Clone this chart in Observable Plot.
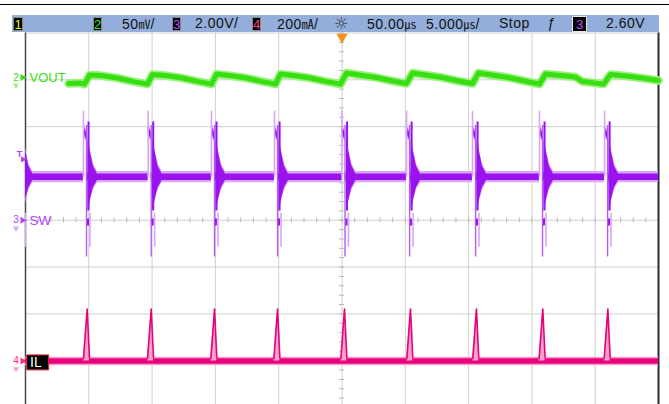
<!DOCTYPE html>
<html><head><meta charset="utf-8">
<script src="https://cdn.jsdelivr.net/npm/d3@7"></script>
<script src="https://cdn.jsdelivr.net/npm/@observablehq/plot@0.6"></script>
<style>
body{margin:0;background:#fff;}
#wrap{position:relative;width:669px;height:404px;overflow:hidden;background:#fff;font-family:"Liberation Sans",Arial,sans-serif;}
#topline{position:absolute;left:0;top:3.5px;width:669px;height:1.5px;background:#000;}
#bar{position:absolute;left:12px;top:15px;width:647px;height:17px;background:#93aedb;}
.h{position:absolute;top:15px;height:17px;line-height:17px;font-size:14px;color:#111;white-space:nowrap;letter-spacing:0.5px;}
.u{font-family:"Noto Sans CJK SC",sans-serif;font-size:12px;letter-spacing:0;}
.box{position:absolute;top:16.5px;height:14px;line-height:13px;background:#000;font-size:13px;text-align:center;border:1px solid #8a8a8a;box-sizing:border-box;}
#plot{position:absolute;left:0;top:32px;}
</style></head>
<body>
<div id="wrap">
  <div id="topline"></div>
  <div id="bar"></div>
  <div class="box" style="left:13px;width:10px;color:#f4f400;">1</div>
  <div class="box" style="left:93px;width:9px;color:#3cf03c;">2</div>
  <div class="h" style="left:122px;">50<span class="u">㎷</span>/</div>
  <div class="box" style="left:172px;width:9px;color:#c84cff;">3</div>
  <div class="h" style="left:195px;">2.00V/</div>
  <div class="box" style="left:252px;width:9px;color:#ff3c8c;">4</div>
  <div class="h" style="left:277px;">200<span class="u">㎃</span>/</div>
  <div class="h" style="left:334px;font-family:'DejaVu Sans';font-size:16px;letter-spacing:0;color:#333;">☼</div>
  <div class="h" style="left:367px;">50.00<span class="u">㎲</span></div>
  <div class="h" style="left:426px;">5.000<span class="u">㎲</span>/</div>
  <div class="h" style="left:499px;">Stop</div>
  <div class="h" style="left:547px;font-style:italic;">ƒ</div>
  <div class="box" style="left:572px;width:15px;height:16px;top:15.5px;line-height:15px;border:1px solid #e8e8e8;color:#c84cff;">3</div>
  <div class="h" style="left:606px;">2.60V</div>
  <div id="plot"></div>
</div>
<script>
// ---- data ----
// VOUT (channel 2, mV relative to its marker)
const voutTime = [28.40,29.34,29.66,30.06,30.92,32.27,33.53,34.64,35.03,36.06,37.40,38.67,39.69,40.09,41.11,42.46,43.72,44.75,45.14,46.17,47.51,48.78,49.88,50.36,51.38,52.73,53.99,55.09,55.57,56.60,57.94,59.20,60.31,60.78,61.81,63.15,64.42,65.60,66.07,67.26,68.44,69.00,70.66,71.21,72.79,73.97,75.00];
const voutMv   = [-6.4,-5.9,-7.0,2.7,2.1,-0.5,-4.3,-7.0,3.2,2.1,-0.5,-4.3,-7.0,3.7,2.1,-0.5,-4.3,-7.0,3.7,2.1,-0.5,-4.3,-7.0,4.8,2.7,0.0,-3.7,-6.4,4.8,2.7,0.0,-3.7,-6.4,4.8,2.7,0.0,-3.7,-7.0,3.7,2.1,0.5,-4.3,-7.0,3.2,1.1,-1.1,-3.2];

// SW (channel 3, volts): rising-edge times (µs) and the shape of one switching event
const swEdges   = [24.48,29.58,34.69,39.69,44.67,50.00,55.10,60.31,65.60,70.74];
const swRingDt  = [-0.001,0,0.24,0.241,0.36,0.37,0.55,0.79,1.10];
const swRingHi  = [1.98,4.0,3.75,1.98,1.98,3.4,2.9,2.3,1.98];
const swRingLo  = [1.70,3.7,3.45,1.70,1.70,0.4,0.9,1.4,1.70];
const swSpikeDt   = [0,0.24,0.355,0.40,0.51];
const swSpikeFrom = [1.84,4.05,0.05,4.2,0.3];
const swSpikeTo   = [4.66,-1.57,-0.25,0.4,-1.15];
const swSpikeTone = ["light","mid","dark","dark","light"];
const swBaseHi = 1.98, swBaseLo = 1.70;

// IL (channel 4, mA): peak times and peak shape
const ilPeaks = [29.87,34.93,39.93,44.91,50.20,55.41,60.62,65.86,71.00];
const ilDt = [-0.29,0,0.18];
const ilMa = [10,222,15];

// ---- scope settings ----
const mVperDiv = 50, VperDiv = 2, mAperDiv = 200;
const pos2 = 3.048, pos3 = 0, pos4 = -3.005; // channel marker positions (div)
const trigV = 2.60, trigT = 50;

// ---- derived tables ----
const vout = voutTime.map((t,i)=>({t, y: pos2 + voutMv[i]/mVperDiv}));
const swBand = swEdges.flatMap(e => swRingDt.map((d,j)=>({t:e+d, hi:swRingHi[j], lo:swRingLo[j]})));
swBand.push({t:75.5, hi:swBaseHi, lo:swBaseLo});
swBand.sort((a,b)=>a.t-b.t);
const swSpikes = swEdges.flatMap(e => swSpikeDt.map((d,j)=>({t:e+d, a:swSpikeFrom[j], b:swSpikeTo[j], tone:swSpikeTone[j]})));
const ilTri = ilPeaks.flatMap((p,k) => ilDt.map((d,j)=>({k, t:p+d, y: pos4 + ilMa[j]/mAperDiv})));

const xTicks = d3.ticks(25,75,10);
const yTicks = d3.ticks(-3.936,4,8);
const minorX = d3.range(25,75.001,1);
const minorY = d3.range(-3.8,4.001,0.2);

const G = "#37df12", Glight = "#9cf07e";
const P = "#9a12ee", Plight = "#d8a6f6", Pmid = "#b45cf2", Plabel = "#b444f2";
const M = "#e8007c", Mlight = "#f6a2ca", Mlabel = "#ff2a8a";
const boxSym = {draw(ctx){ ctx.rect(-11,-7.5,22,15); }};

const sv = (v)=> pos3 + v/VperDiv;

const chart = Plot.plot({
  width: 669, height: 372,
  marginLeft: 25, marginRight: 11, marginTop: 0.5, marginBottom: 0,
  x: {domain: [25,75], axis: null},
  y: {domain: [-3.936,4], axis: null},
  style: {background: "transparent", overflow: "visible", fontFamily: "'Liberation Sans', Arial, sans-serif"},
  marks: [
    Plot.ruleX(xTicks, {stroke: "#cfcfcf", strokeWidth: 1}),
    Plot.ruleY(yTicks, {stroke: "#cfcfcf", strokeWidth: 1}),
    Plot.ruleX(minorX, {x: d=>d, y1: -0.055, y2: 0.055, stroke: "#b8b8b8"}),
    Plot.ruleY(minorY, {y: d=>d, x1: trigT-0.2, x2: trigT+0.2, stroke: "#b8b8b8"}),
    Plot.ruleX([25], {stroke: "#4a4a4a", strokeWidth: 1.5}),
    Plot.ruleX([75], {stroke: "#2c2c34", strokeWidth: 2}),

    // IL
    Plot.ruleY([pos4], {stroke: Mlight, strokeWidth: 8.5}),
    Plot.ruleY([pos4], {stroke: M, strokeWidth: 5.5}),
    Plot.areaY(ilTri, {x: "t", y1: pos4, y2: "y", z: "k", fill: Mlight}),
    Plot.line(ilTri, {x: "t", y: "y", z: "k", stroke: M, strokeWidth: 1.6}),

    // SW
    Plot.areaY(swBand, {x: "t", y1: d=>sv(d.lo)-0.05, y2: d=>sv(d.hi)+0.05, fill: Plight, clip: true}),
    Plot.areaY(swBand, {x: "t", y1: d=>sv(d.lo), y2: d=>sv(d.hi), fill: P, clip: true}),
    Plot.ruleX(swSpikes.filter(d=>d.tone==="light"), {x: "t", y1: d=>sv(d.a), y2: d=>sv(d.b), stroke: Plight, strokeWidth: 1.6, clip: true}),
    Plot.ruleX(swSpikes.filter(d=>d.tone==="mid"), {x: "t", y1: d=>sv(d.a), y2: d=>sv(d.b), stroke: Pmid, strokeWidth: 1.4, clip: true}),
    Plot.ruleX(swSpikes.filter(d=>d.tone==="dark"), {x: "t", y1: d=>sv(d.a), y2: d=>sv(d.b), stroke: P, strokeWidth: 2, clip: true}),

    // VOUT
    Plot.line(vout, {x: "t", y: "y", stroke: Glight, strokeWidth: 8.5}),
    Plot.line(vout, {x: "t", y: "y", stroke: G, strokeWidth: 5}),

    // trigger marker
    Plot.dot([trigT], {x: d=>d, y: 4, dy: 4, symbol: "triangle", rotate: 180, r: 4.2, fill: "#f39020"}),
    Plot.text(["T"], {x: 25, y: sv(trigV), dx: -6, dy: -5.5, text: d=>d, fill: Plabel, fontSize: 9, fontWeight: "bold"}),
    Plot.dot([trigV], {x: 25, y: d=>sv(d), dx: -2.5, symbol: "triangle", rotate: 90, r: 2.4, fill: Plabel}),

    // channel markers
    Plot.text(["2"], {x: 25, y: pos2, dx: -9.5, text: d=>d, fill: G, fontSize: 10}),
    Plot.dot([pos2], {x: 25, y: d=>d, dx: -3, symbol: "triangle", rotate: 90, r: 2.6, fill: G}),
    Plot.dot([pos2], {x: 25, y: d=>d, dx: -9.5, dy: 8, symbol: "triangle", rotate: 180, r: 2.2, fill: Glight}),
    Plot.text(["VOUT"], {x: 25, y: pos2, dx: 4, text: d=>d, textAnchor: "start", fill: G, fontSize: 13}),

    Plot.text(["3"], {x: 25, y: pos3, dx: -9.5, text: d=>d, fill: Plabel, fontSize: 10}),
    Plot.dot([pos3], {x: 25, y: d=>d, dx: -3, symbol: "triangle", rotate: 90, r: 2.6, fill: Plabel}),
    Plot.dot([pos3], {x: 25, y: d=>d, dx: -9.5, dy: 8, symbol: "triangle", rotate: 180, r: 2.2, fill: Plight}),
    Plot.text(["SW"], {x: 25, y: pos3, dx: 4, text: d=>d, textAnchor: "start", fill: Plabel, fontSize: 13.5}),

    Plot.text(["4"], {x: 25, y: pos4, dx: -9.5, text: d=>d, fill: Mlabel, fontSize: 10}),
    Plot.dot([pos4], {x: 25, y: d=>d, dx: -3, symbol: "triangle", rotate: 90, r: 2.6, fill: Mlabel}),
    Plot.dot([pos4], {x: 25, y: d=>d, dx: -9.5, dy: 8, symbol: "triangle", rotate: 180, r: 2.2, fill: Mlight}),
    Plot.dot([pos4], {x: 25, y: d=>d, dx: 12.2, dy: 1.5, symbol: boxSym, fill: "#000", stroke: "#e03040", strokeWidth: 1}),
    Plot.text(["IL"], {x: 25, y: pos4, dx: 4.5, dy: 1.5, text: d=>d, textAnchor: "start", fill: "#fff", fontSize: 14})
  ]
});
document.getElementById("plot").appendChild(chart);
</script>
</body></html>
